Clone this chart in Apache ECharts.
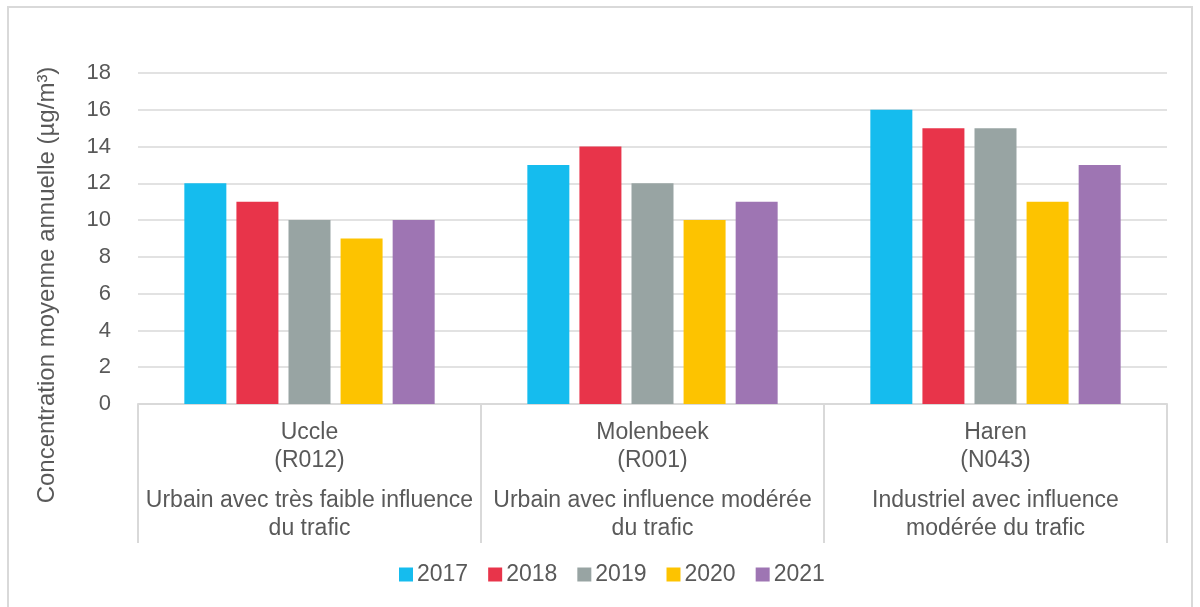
<!DOCTYPE html>
<html>
<head>
<meta charset="utf-8">
<script src="https://cdn.jsdelivr.net/npm/echarts@6/dist/echarts.min.js"></script>
<style>
  html, body { margin: 0; padding: 0; background: #fff; }
  #container { width: 1200px; height: 607px; }
</style>
</head>
<body>
<div id="container"></div>
<script>
var dom = document.getElementById('container');
var myChart = echarts.init(dom, null, { renderer: 'canvas' });

// stations (catégories de l'axe x)
var stations = [
    'Uccle\n(R012)\n{s| }\nUrbain avec très faible influence\ndu trafic',
    'Molenbeek\n(R001)\n{s| }\nUrbain avec influence modérée\ndu trafic',
    'Haren\n(N043)\n{s| }\nIndustriel avec influence\nmodérée du trafic'
];
var years = ['2017', '2018', '2019', '2020', '2021'];
var v2017 = [12, 13, 16];
var v2018 = [11, 14, 15];
var v2019 = [10, 12, 15];
var v2020 = [9, 10, 11];
var v2021 = [10, 11, 13];
var yTicks = { min: 0, max: 18, step: 2 };

var colors = ['#15bcee', '#e8344a', '#98a4a3', '#fdc300', '#9e75b3'];
var txt = '#595959';
var lineCol = '#d9d9d9';
var font = 'Liberation Sans, Arial, sans-serif';

var allVals = [v2017, v2018, v2019, v2020, v2021];
var series = years.map(function (y, i) {
    return {
        name: y,
        type: 'bar',
        data: allVals[i],
        barWidth: 42,
        barGap: '24%',
        itemStyle: { color: colors[i] }
    };
});

var option = {
    animation: false,
    color: colors,
    textStyle: { fontFamily: font },
    grid: { left: 138, right: 33, top: 73, bottom: 203 },
    legend: {
        data: years,
        bottom: 16,
        left: 394,
        icon: 'rect',
        itemWidth: 14,
        itemHeight: 14,
        itemGap: 20,
        textStyle: { fontSize: 23, color: txt, fontFamily: font, padding: [0, 0, 0, -1] }
    },
    xAxis: {
        type: 'category',
        data: stations,
        axisLine: { lineStyle: { color: lineCol, width: 2 } },
        axisTick: { show: true, length: 139, lineStyle: { color: lineCol, width: 2 } },
        axisLabel: {
            interval: 0,
            margin: 15,
            fontSize: 23,
            lineHeight: 28,
            color: txt,
            fontFamily: font,
            rich: { s: { fontSize: 1, lineHeight: 12 } }
        }
    },
    yAxis: {
        type: 'value',
        min: yTicks.min,
        max: yTicks.max,
        interval: yTicks.step,
        axisLine: { show: false },
        axisTick: { show: false },
        axisLabel: { fontSize: 22, color: txt, margin: 27, fontFamily: font },
        splitLine: { lineStyle: { color: lineCol, width: 1.5 } }
    },
    graphic: [
        {
            type: 'rect',
            shape: { x: 8, y: 7, width: 1184, height: 640 },
            style: { fill: null, stroke: lineCol, lineWidth: 2 },
            silent: true
        },
        {
            type: 'text',
            x: 47,
            y: 285,
            rotation: Math.PI / 2,
            style: {
                text: 'Concentration moyenne annuelle (µg/m³)',
                fontSize: 24,
                fill: txt,
                fontFamily: font,
                align: 'center',
                verticalAlign: 'middle'
            }
        }
    ],
    series: series
};

myChart.setOption(option);
</script>
</body>
</html>
